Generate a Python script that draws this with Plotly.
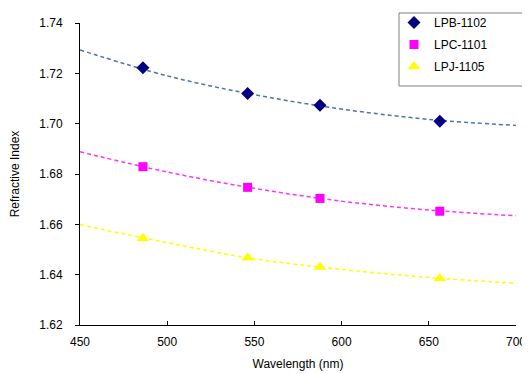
import plotly.graph_objects as go

# measured wavelengths (nm)
wavelength = [486.1, 546.1, 587.6, 656.3]
lpb_1102 = [1.7222, 1.7120, 1.7073, 1.7010]
lpc_1101 = [1.6829, 1.6747, 1.6703, 1.6652]
lpj_1105 = [1.6545, 1.6467, 1.6430, 1.6385]

# trend line values
trend_wl = [450, 500, 550, 600, 650, 700]
lpb_trend = [1.7293, 1.7190, 1.7115, 1.7058, 1.7017, 1.6993]
lpc_trend = [1.6888, 1.6808, 1.6743, 1.6692, 1.6657, 1.6634]
lpj_trend = [1.6599, 1.6527, 1.6463, 1.6421, 1.6389, 1.6366]

series_names = ["LPB-1102", "LPC-1101", "LPJ-1105"]
x_ticks = [450, 500, 550, 600, 650, 700]
y_ticks = [1.62, 1.64, 1.66, 1.68, 1.70, 1.72, 1.74]

fig = go.Figure()

trend_styles = [
    (lpb_trend, "#4F74A8"),
    (lpc_trend, "#FF33FF"),
    (lpj_trend, "#FFFF00"),
]
for vals, col in trend_styles:
    fig.add_trace(go.Scatter(
        x=trend_wl, y=vals, mode="lines",
        line=dict(color=col, width=1.5, dash="4px,3px", shape="spline"),
        showlegend=False, hoverinfo="skip", cliponaxis=False))

marker_styles = [
    (lpb_1102, "#000080", "diamond", 10),
    (lpc_1101, "#FF00FF", "square", 9),
    (lpj_1105, "#FFFF00", "triangle-up", 11),
]
for name, (vals, col, sym, sz) in zip(series_names, marker_styles):
    fig.add_trace(go.Scatter(
        x=wavelength, y=vals, mode="markers", name=name, legendgroup=name,
        marker=dict(color=col, symbol=sym, size=sz, line=dict(width=0))))

W, H = 530, 374
L, R, T, B = 72, 22, 15, 57
pw, ph = W - L - R, H - T - B

def px_to_paper_x(px):
    return (px - L) / pw

def px_to_paper_y(py):
    return (H - B - py) / ph

font_family = "Liberation Sans, Arial, sans-serif"
fig.update_layout(
    width=W, height=H,
    margin=dict(l=L, r=R, t=T, b=B, autoexpand=False),
    paper_bgcolor="white", plot_bgcolor="white",
    font=dict(family=font_family, size=12, color="black"),
    showlegend=True,
    legend=dict(
        xref="container", yref="container",
        x=386 / W, y=1 + 10 / H, xanchor="left", yanchor="top",
        borderwidth=0, bgcolor="rgba(0,0,0,0)",
        font=dict(size=12, color="black"),
        tracegroupgap=3, itemwidth=30,
    ),
    shapes=[dict(
        type="rect", xref="paper", yref="paper", layer="below",
        x0=px_to_paper_x(391), x1=px_to_paper_x(527),
        y0=px_to_paper_y(78), y1=px_to_paper_y(5),
        line=dict(color="#808080", width=1), fillcolor="white",
    )],
    xaxis=dict(
        range=[450, 700], tickvals=x_ticks, ticktext=[str(v) for v in x_ticks],
        showgrid=False, zeroline=False, showline=True, linecolor="black", linewidth=1,
        ticks="inside", ticklen=4, tickcolor="black",
        ticklabelstandoff=6,
        title=dict(text="Wavelength (nm)", font=dict(size=12), standoff=11),
        tickfont=dict(size=12), automargin=False,
    ),
    yaxis=dict(
        range=[1.62, 1.74], tickvals=y_ticks, ticktext=["%.2f" % v for v in y_ticks],
        showgrid=False, zeroline=False, showline=True, linecolor="black", linewidth=1,
        ticks="outside", ticklen=4, tickcolor="black",
        ticklabelstandoff=10,
        title=dict(text="Refractive Index", font=dict(size=12), standoff=20),
        tickfont=dict(size=12), automargin=False,
    ),
)

fig.write_html("out.html")
